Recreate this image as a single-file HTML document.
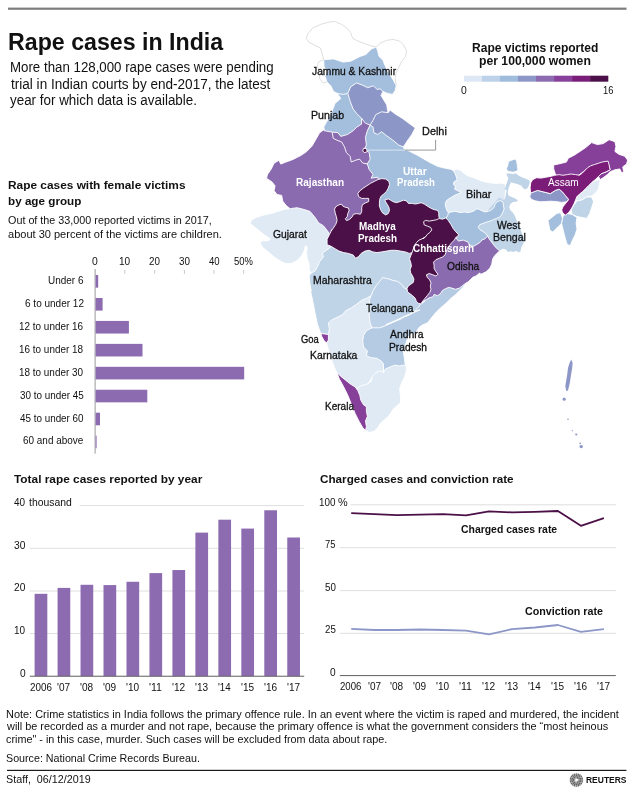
<!DOCTYPE html>
<html><head><meta charset="utf-8"><title>Rape cases in India</title>
<style>
html,body{margin:0;padding:0;background:#fff;}
#tx{position:absolute;left:0;top:0;width:633px;height:794px;will-change:transform;}
#p{position:relative;width:633px;height:794px;overflow:hidden;background:#fff;font-family:"Liberation Sans", sans-serif;color:#111;}
#p svg{position:absolute;left:0;top:0;}
.t{position:absolute;white-space:pre;line-height:1;transform-origin:0 0;display:block;}
</style></head><body>
<div id="p">
<svg width="633" height="794" viewBox="0 0 633 794">
<rect x="8" y="7.6" width="618.5" height="2.2" fill="#7d7d7d"/>
<rect x="463.90" y="75.7" width="18.2" height="6" fill="#dde8f4"/>
<rect x="481.93" y="75.7" width="18.2" height="6" fill="#bdd2e8"/>
<rect x="499.96" y="75.7" width="18.2" height="6" fill="#9fbcdc"/>
<rect x="517.99" y="75.7" width="18.2" height="6" fill="#8d97c7"/>
<rect x="536.02" y="75.7" width="18.2" height="6" fill="#8c6bb1"/>
<rect x="554.05" y="75.7" width="18.2" height="6" fill="#87409b"/>
<rect x="572.08" y="75.7" width="18.2" height="6" fill="#7a1d79"/>
<rect x="590.11" y="75.7" width="18.2" height="6" fill="#4b1048"/>
<g stroke="#fff" stroke-width="0.9" stroke-linejoin="round">
<polygon fill="#e0eaf5" points="290.2,208.5 283.6,209.5 277.9,211.4 272.2,213.3 264.6,214.8 257.1,217.1 251.4,219.9 250.4,223.7 255.2,227.5 259.9,231.3 264.6,235.1 270.3,238.9 268.4,240.8 262.7,240.8 259.9,242.7 262.7,247.4 268.4,252.1 274.1,256.9 279.8,260.7 285.5,263.5 291.2,263.5 296.9,260.7 301.6,255.9 304.5,250.2 305.4,245.5 307.3,247.4 306.4,253.1 307.3,258.8 309.2,264.5 309.2,270.1 311.1,273.0 319.6,275.8 331.0,256.9 338.6,237.9 334.8,222.7 319.6,211.4 304.5,203.8"/>
<polygon fill="#c0d4e8" points="311.1,273.0 314.9,271.1 317.7,266.4 319.6,261.6 323.4,256.9 322.5,253.1 326.3,250.2 329.1,248.3 334.8,243.6 360.0,243.6 399.0,241.4 417.9,245.2 417.9,286.9 398.6,307.9 375.8,319.3 347.4,338.2 328.4,342.0 320.9,333.5 319.0,328.8 317.1,323.1 315.2,313.6 313.3,304.1 311.4,294.6 309.5,285.2 307.6,275.7 311.1,291.0 309.8,283.4 309.2,275.8"/>
<polygon fill="#e0eaf5" points="320.9,333.5 328.4,334.5 329.4,328.8 328.4,323.1 331.3,320.2 337.0,317.4 342.7,314.5 345.5,310.8 351.2,307.9 356.9,304.1 361.6,300.3 366.4,298.4 371.1,295.6 379.6,298.4 379.6,326.9 387.2,349.6 389.1,370.5 381.5,376.2 376.8,376.2 372.0,378.1 369.2,381.8 366.4,385.6 362.6,388.5 356.9,391.3 351.2,391.3 345.5,383.7 337.0,373.3 334.1,366.7 331.3,359.1 328.4,349.6 326.5,343.0 323.7,340.1 321.8,336.4"/>
<polygon fill="#bdd2e8" points="371.1,295.6 373.0,290.9 375.8,286.1 379.6,281.4 382.5,277.6 387.2,278.5 392.9,280.4 397.6,281.4 401.4,284.2 404.3,288.0 407.1,289.0 413.7,289.0 421.3,298.4 425.1,307.9 420.0,319.3 402.4,326.9 379.6,332.6 372.0,327.8 370.1,323.1 369.2,315.5 370.1,307.9 369.2,300.3"/>
<polygon fill="#b5cbe4" points="372.0,327.8 379.6,327.8 385.3,325.9 391.0,323.1 396.7,320.2 402.4,317.4 408.1,315.5 413.7,311.7 420.0,309.8 385.7,324.8 391.4,322.9 396.1,321.0 400.9,319.1 404.6,316.3 410.3,314.4 414.1,311.5 417.9,307.7 420.8,303.9 422.7,303.0 427.4,298.2 436.9,292.6 450.1,285.0 463.4,279.3 466.3,281.2 463.4,286.9 459.6,290.7 455.8,294.5 451.1,298.2 446.4,303.0 440.7,307.7 435.0,313.4 431.2,318.2 427.4,322.9 422.7,324.8 418.9,327.6 416.0,332.4 409.1,335.7 407.2,339.5 405.3,345.2 403.4,350.9 404.4,358.4 405.3,365.1 406.3,370.8 399.6,373.6 390.1,373.6 383.5,372.7 383.5,364.1 381.6,361.3 376.9,358.4 370.2,357.5 366.4,355.6 367.4,350.9 363.6,347.1 362.7,341.4 363.5,335.4 366.4,330.7"/>
<polygon fill="#e0eaf5" points="360.8,385.9 367.4,384.0 371.2,381.2 372.1,376.4 375.9,372.7 380.7,370.8 383.5,372.7 385.4,368.9 390.1,367.0 394.9,365.1 399.6,366.0 403.4,365.1 406.3,366.0 406.3,370.8 404.4,377.4 401.5,383.1 399.6,388.8 400.6,396.4 400.6,403.0 396.8,405.8 393.0,409.6 389.2,415.3 385.4,419.1 380.7,422.9 377.8,427.6 374.0,431.4 369.3,432.4 365.5,430.5 357.9,421.0 354.1,405.8 354.1,390.7"/>
<polygon fill="#87409a" points="337.1,372.7 340.9,376.4 345.6,380.2 350.3,384.0 355.1,386.9 357.9,390.7 359.8,395.4 360.8,400.1 363.6,404.9 366.4,406.8 366.4,411.5 367.4,416.3 365.5,421.0 366.4,426.7 365.5,430.5 362.7,427.6 358.9,421.0 355.1,413.4 351.3,403.9 347.5,394.5 342.7,385.0 339.0,378.3"/>
<polygon fill="#87409a" points="320.9,333.5 328.4,334.5 328.4,340.1 326.5,343.0 323.7,340.1 321.8,336.4"/>
<polygon fill="#a4bfdd" points="323.7,59.7 333.6,58.9 343.1,62.1 350.7,61.2 360.1,56.4 365.8,54.5 371.5,48.9 376.3,47.0 377.6,50.8 379.1,56.4 382.9,60.2 384.8,65.0 388.6,72.6 393.3,80.1 396.2,85.8 395.2,90.6 392.4,94.4 387.6,93.4 382.9,91.5 380.0,93.4 373.4,93.4 365.8,93.4 356.4,91.5 352.6,99.1 343.1,99.1 337.4,93.4 333.6,91.5 330.8,85.8 327.0,82.0 325.1,76.4 327.0,70.7 324.1,66.9"/>
<polygon fill="#a4bfdd" points="347.8,93.4 343.1,94.4 337.4,93.4 340.8,98.5 335.1,103.3 332.2,110.9 327.5,120.3 323.7,127.0 324.6,130.8 328.4,135.5 347.4,139.3 364.5,127.9 364.5,116.5 356.9,107.1 353.1,93.8"/>
<polygon fill="#8d97c7" points="347.8,93.4 350.7,86.8 356.4,83.0 362.0,84.9 367.7,87.7 373.4,85.8 377.2,89.6 380.0,88.7 382.9,91.5 381.0,95.3 383.8,100.0 386.7,104.8 387.6,110.5 388.6,116.2 379.1,123.7 371.5,127.5 365.4,126.0 361.6,124.1 361.6,118.4 356.9,113.7 353.1,109.0 350.2,101.4 347.8,93.4"/>
<polygon fill="#8d97c7" points="370.1,125.1 373.0,120.3 375.8,114.6 381.5,111.8 388.2,112.7 390.0,109.9 394.8,113.7 402.4,118.4 410.0,124.1 415.3,127.9 411.8,134.5 407.1,141.2 403.3,146.9 394.8,148.8 383.4,143.1 375.8,139.3 370.1,133.6"/>
<polygon fill="#a4bfdd" points="370.1,125.1 373.0,127.0 373.9,132.7 377.7,134.5 381.5,131.7 386.3,135.5 392.9,140.2 398.6,145.0 403.3,146.9 403.8,148.4 409.5,151.3 417.1,155.1 423.7,158.9 430.3,162.7 437.9,166.4 445.5,168.3 451.2,169.3 454.0,171.2 460.7,176.9 462.6,195.8 455.0,209.1 449.3,222.4 437.9,222.4 419.0,211.0 400.0,209.1 398,224 376,224 373,188 362.6,169.6 360.7,150.7 362.6,137.4"/>
<polygon fill="#e0eaf5" points="453.4,170.2 456.6,169.0 460.4,170.2 464.2,173.4 468.0,175.9 472.4,177.2 476.8,179.1 481.9,181.0 486.9,182.2 492.0,183.1 497.0,183.5 500.8,183.1 505.0,184.1 505.9,187.9 504.6,200.6 505.9,215.7 475.6,218.2 450.3,218.2 448.4,212.6 447.1,210.7 445.9,207.5 445.2,203.7 446.5,200.6 449.0,198.7 452.2,196.8 455.3,194.9 459.1,193.6 461.0,192.3 458.5,191.1 454.7,189.2 455.3,186.7 453.4,184.1 454.1,181.6 457.2,180.3 456.6,177.8 455.3,174.0"/>
<polygon fill="#c0d4e8" stroke="none" points="506.5,173.5 509.7,173.5 512.9,174.1 516.0,173.5 518.5,175.4 521.7,177.3 524.9,178.5 528.0,179.8 529.9,181.1 529.3,184.2 528.0,187.4 526.1,189.3 523.6,188.7 521.1,185.5 517.9,184.2 515.4,183.6 512.9,183.0 511.0,182.3 509.7,184.9 508.4,188.7 507.8,192.4 508.4,195.6 511.6,196.9 515.4,198.4 517.9,200.4 516.8,201.4 513.0,202.0 510.4,203.9 509.2,207.1 510.4,210.2 513.0,212.7 514.9,215.9 516.1,219.1 517.4,222.2 519.3,225.4 520.6,229.2 521.8,233.0 523.7,236.8 524.3,240.6 523.1,244.3 521.2,247.5 520.6,251.3 518.7,252.6 516.1,250.7 513.6,251.9 511.1,251.3 507.9,251.9 506.0,249.4 502.9,248.8 499.7,250.7 495.3,253.2 485.2,243.1 475.1,227.9 489.0,209.0 499.1,197.6 504.1,200.1 505.4,197.0 506.0,193.8 506.7,190.0 504.6,189.3 505.9,185.5 507.2,181.7 508.4,177.9 506.8,175.4"/>
<polygon fill="#a4bfdd" points="508.4,161.5 511.6,160.2 514.8,159.0 516.7,160.9 517.3,165.3 517.9,169.7 516.0,171.6 512.9,172.2 509.7,171.6 507.2,171.0 506.5,168.4 507.8,165.3"/>
<polygon fill="#a4bfdd" points="445.9,218.2 447.7,215.7 448.4,212.6 451.5,211.9 454.7,211.3 457.9,211.9 461.0,212.6 464.2,211.9 468.0,212.6 471.1,211.9 474.3,210.7 476.8,208.8 479.3,209.4 481.9,210.7 485.0,211.9 488.2,211.3 491.4,210.0 493.9,207.5 495.1,204.3 497.0,201.8 500.2,200.6 502.7,201.8 502.9,202.6 503.5,205.8 504.1,209.0 502.9,212.1 501.6,214.6 499.7,217.2 496.5,218.4 493.4,219.7 490.2,221.0 486.4,222.2 482.6,223.5 479.5,224.8 478.2,227.3 480.1,229.8 483.3,231.7 485.8,233.6 487.7,236.1 487.7,243.1 477.6,248.1 464.9,248.1 456.1,243.1 446,240 438,228 438,222"/>
<polygon fill="#8b6bb0" points="420.9,303.9 423.4,301.4 426.5,299.5 429.7,297.6 432.9,296.9 434.1,294.4 437.3,295.7 440.4,293.8 442.3,290.6 445.5,288.7 448.7,287.4 451.8,288.1 455.6,289.3 459.4,288.1 462.6,285.6 465.1,283.7 468.2,281.8 470.8,279.2 472.7,277.3 475.8,276.1 480.0,272.9 480.5,274.5 486.2,271.7 490.0,267.9 491.8,264.1 492.1,262.0 492.7,258.9 494.6,255.7 497.2,253.2 499.7,250.7 497.8,249.4 495.3,246.9 492.7,243.7 490.9,241.2 489.0,238.7 487.7,236.1 485.2,238.7 482.0,239.9 480.1,242.4 477.0,244.3 473.8,246.2 470.0,245.6 467.9,242.0 463.2,240.1 458.4,241.1 455.6,237.3 445.2,234.5 433.8,255.3 426.2,276.2 425.3,285.6 419.0,298.2"/>
<polygon fill="#8b6bb0" points="361.6,118.4 365.4,123.2 370.1,125.1 367.3,130.8 365.4,137.4 366.4,145.0 364.5,148.8 369.2,152.6 370.1,159.2 367.3,163.9 362.6,165.8 356.9,165.8 349.3,163.9 343.6,152.6 337.9,145.0 330.3,139.3 332.2,132.1 337.9,132.7 340.8,136.4 347.4,134.5 353.1,130.8 356.9,127.0 361.6,124.1"/>
<polygon fill="#8b6bb0" points="324.6,130.8 332.2,132.1 333.2,138.3 337.0,140.2 341.7,142.1 344.5,146.9 346.4,152.6 350.2,156.4 351.2,162.0 355.9,160.1 359.7,159.2 362.6,163.0 367.3,163.9 369.2,169.6 373.0,174.4 371.1,178.2 377.7,177.2 381.5,188.6 375.8,211.3 346.2,236.2 334.8,243.7 329.1,233.3 327.2,230.5 323.4,225.7 318.7,222.9 314.9,217.2 310.1,211.5 304.5,209.6 296.9,207.7 290.2,208.7 286.4,205.8 282.7,201.1 281.7,195.4 277.0,194.5 274.1,190.7 275.1,185.9 272.2,182.1 266.5,178.3 267.5,174.5 271.3,168.9 274.1,163.2 278.9,160.3 280.8,164.1 285.5,162.2 293.1,159.4 300.7,155.6 306.4,151.8 312.0,146.1 315.8,139.5 319.6,132.8 323.4,130.0"/>
<polygon fill="#4b1048" points="331.4,230.7 333.3,228.1 335.8,224.3 337.1,220.6 336.4,216.8 335.2,213.0 334.5,209.2 335.8,206.7 339.0,204.8 341.5,204.1 342.7,206.0 345.3,207.3 348.4,207.9 349.1,210.4 347.8,213.6 347.2,216.8 345.3,218.7 346.5,220.6 349.7,219.3 352.2,216.8 353.5,214.2 356.7,213.6 360.4,214.2 361.7,211.7 361.7,207.9 362.3,204.8 365.5,202.9 368.7,201.6 368.7,198.4 365.5,198.4 361.7,198.4 358.5,196.5 357.9,193.4 359.8,190.9 363.0,188.3 366.8,185.8 370.6,183.3 374.3,181.4 378.1,179.5 381.9,178.6 385.7,179.1 388.9,181.4 389.5,184.5 388.2,188.3 386.4,191.5 383.8,194.0 381.3,195.9 380.0,198.4 379.4,202.2 379.4,206.0 380.7,209.8 382.6,213.0 385.7,214.9 388.2,213.6 389.5,210.4 388.9,207.3 387.0,204.1 385.1,201.0 385.1,199.6 388.8,199.0 392.6,201.5 396.4,202.7 400.2,201.5 403.4,200.2 406.5,200.9 408.4,203.4 412.2,203.4 415.4,204.0 418.5,203.4 421.1,202.7 424.2,204.0 428.0,206.5 431.2,208.4 434.3,209.7 437.5,210.3 438.8,212.9 438.8,216.0 439.4,218.5 445.7,221.7 450.8,233.1 438.1,250.8 417.9,260.0 412.4,252.6 409.3,253.4 405.3,251.9 400.6,251.1 395.8,250.3 391.1,250.3 386.4,251.1 381.6,251.9 376.9,252.6 372.9,251.9 369.0,250.3 365.0,251.1 361.1,253.4 358.7,256.6 355.5,258.2 353.2,255.0 348.4,253.4 343.7,252.6 339.0,251.1 335.0,248.7 331.1,246.3 327.1,244.7 327.1,239.2 329.5,234.5 331.8,229.7"/>
<polygon fill="#4b1048" points="439.4,218.5 442.6,219.2 445.7,217.9 448.2,220.4 450.8,224.2 453.3,228.7 455.8,231.8 458.4,234.3 457.7,236.9 456.2,236.9 454.3,240.1 451.8,242.6 449.3,245.7 447.4,248.9 446.1,252.1 444.9,255.2 442.3,257.1 439.2,258.4 436.0,259.6 433.5,262.2 434.1,265.3 434.1,268.5 436.0,271.7 437.9,274.2 436.0,276.1 432.9,274.8 429.1,273.5 426.5,274.8 427.2,277.3 429.7,279.9 431.0,283.0 430.3,286.2 431.0,289.3 429.7,292.5 427.2,295.7 424.6,298.8 422.1,302.0 420.9,303.9 418.3,303.2 416.4,301.4 415.2,298.2 412.6,295.7 410.1,293.8 407.6,291.9 407.0,288.7 408.2,286.2 410.7,284.3 413.3,282.4 413.9,279.2 412.6,276.1 410.7,272.9 410.1,269.8 411.4,266.0 410.7,262.2 409.5,259.0 410.7,255.9 412.0,252.7 413.3,248.9 414.5,245.7 416.4,242.6 419.0,240.1 422.1,238.8 425.3,236.9 423.0,238.8 425.5,236.9 427.4,234.3 429.9,232.4 431.8,229.9 430.6,227.4 427.4,226.1 424.2,224.9 423.6,221.7 425.5,220.4 429.3,221.1 433.1,220.4 436.2,219.8"/>
<polygon fill="#4b1048" points="363.3,148.6 366.5,148.4 367.2,151.8 364.2,152.6 362.8,151"/>
<polygon fill="#8d97c7" points="530.7,193.0 537.6,190.4 545.2,192.3 550.3,193.6 555.3,190.4 559.1,189.2 562.3,191.7 565.4,195.5 568.6,199.3 566.7,201.8 561.7,202.4 556.0,201.6 550.3,201.2 545.2,201.6 540.2,201.8 535.1,200.8 531.3,199.3 529.8,196.8"/>
<polygon fill="#e0eaf5" points="595.5,180.5 600.4,179.6 599.4,184.4 598.4,189.3 595.5,193.2 591.6,196.1 586.8,197.0 581.9,200.0 577.0,200.9 574.1,200.0 579.0,195.1 582.9,191.2 586.8,187.3 590.6,183.4"/>
<polygon fill="#c0d4e8" points="577.0,200.9 581.9,200.0 586.8,197.0 591.6,197.0 593.6,201.9 591.6,207.7 589.7,213.6 586.8,218.4 581.9,217.4 577.0,216.5 572.2,214.5 571.2,209.7 574.1,204.8"/>
<polygon fill="#a4bfdd" points="563.4,215.5 567.3,213.6 572.2,214.5 577.0,217.4 576.1,223.3 577.0,229.1 575.1,234.9 572.2,240.8 570.2,245.6 567.3,244.7 565.4,238.8 563.4,231.0 561.5,223.3 562.5,218.4"/>
<polygon fill="#a4bfdd" points="547.9,220.4 551.8,217.4 556.6,213.6 560.5,212.6 562.5,218.4 561.5,223.3 558.6,226.2 555.7,229.1 552.8,232.0 549.8,230.1 548.9,225.2"/>
<polygon fill="#87409a" points="553.7,165.0 558.6,164.0 566.4,162.1 568.3,158.2 574.1,155.3 580.0,151.4 585.8,147.5 591.6,142.6 597.4,144.6 603.3,143.6 609.1,139.7 614.9,141.7 615.9,146.5 614.9,151.4 618.8,154.3 624.7,156.2 627.6,160.1 626.6,164.0 622.7,166.9 623.7,171.8 621.7,172.8 619.8,168.9 614.9,169.8 610.1,171.8 607.2,174.7 603.3,177.6 600.4,179.6 598.4,176.6 601.3,173.7 606.2,171.8 610.1,169.8 609.1,166.0 607.2,163.4 603.3,164.0 597.4,166.0 591.6,167.9 585.8,169.8 581.9,172.8 578.0,175.7 572.2,176.6 566.4,177.6 560.5,176.6 555.7,175.1 553.7,168.9"/>
<polygon fill="#7a1c78" points="530.1,187.9 530.7,182.9 532.6,179.7 536.4,177.8 541.4,178.1 545.9,177.2 550.3,176.5 554.7,175.3 559.1,174.6 562.9,175.3 567.3,174.6 571.1,174.0 575.6,174.6 579.3,175.3 581.9,173.4 584.4,170.9 587.6,167.7 590.7,165.8 594.5,164.5 598.3,163.3 602.1,162.0 608.1,161.1 609.1,165 610.1,169.8 606.2,171.8 601.3,173.7 598.4,176.6 595.1,179.7 592.0,182.2 588.8,185.4 585.7,188.5 582.5,191.7 579.3,194.2 576.8,196.8 575.6,199.9 574.3,203.1 572.4,206.9 570.5,210.0 568.6,212.6 565.4,215.1 562.9,213.2 561.7,210.0 562.9,206.9 565.4,203.7 568.0,200.6 568.6,199.3 565.4,195.5 562.3,191.7 559.1,189.2 555.3,190.4 550.3,193.6 545.2,192.3 537.6,190.4 530.7,193.0"/>
<polygon fill="#8d97c7" stroke="none" points="571.3,359.5 572.6,363 572.2,368 571,375 570,382 568,390.5 566.2,391 565.3,386 566.3,380 567.3,374 568,368 569.5,363"/>
</g>
<g fill="none" stroke="#d6d6d6" stroke-width="0.8" stroke-linejoin="round">
<polyline points="323.7,59.7 322.2,53.6 320.3,47.9 314.6,45.1 309.0,42.2 306.1,38.4 308.0,33.7 312.7,28.0 321.3,24.2 327.9,22.3 334.5,21.4 341.2,24.2 346.9,28.0 350.7,32.7 352.6,38.4 356.4,40.3 361.1,42.2 365.8,44.1 371.5,46.0 376.3,47.0"/>
<polyline points="376.3,47.0 380.0,43.2 386.7,40.3 393.3,39.4 400.0,41.3 403.7,45.1 406.6,50.8 405.6,56.4 401.8,61.2 399.0,66.9 396.2,72.6 395.2,78.2 396.2,85.8"/>
<polyline points="323.7,59.7 318.4,62.1 317.5,66.9 320.3,72.6 319.4,78.2 323.2,83.0 327.0,82.0"/>
</g>
<circle cx="564.2" cy="399.2" r="1.6" fill="#8d97c7"/>
<circle cx="568" cy="419.2" r="0.8" fill="#8d97c7"/>
<circle cx="572.3" cy="430.7" r="0.6" fill="#8d97c7"/>
<circle cx="576.3" cy="434.5" r="1.1" fill="#8d97c7"/>
<circle cx="581.2" cy="446.6" r="1.7" fill="#8d97c7"/>
<circle cx="580.2" cy="443.4" r="0.8" fill="#8d97c7"/>
<polyline points="367.5,150.1 405.5,150.1" fill="none" stroke="#dfe9f3" stroke-width="0.9"/>
<polyline points="405.5,150.1 435.6,150.1 435.6,139.8" fill="none" stroke="#8c8c8c" stroke-width="0.9"/>
<rect x="94.6" y="269" width="1" height="184.6" fill="#9a9a9a"/>
<rect x="124.3" y="270" width="1" height="3.8" fill="#c8c8c8"/>
<rect x="154.2" y="270" width="1" height="3.8" fill="#c8c8c8"/>
<rect x="183.9" y="270" width="1" height="3.8" fill="#c8c8c8"/>
<rect x="213.5" y="270" width="1" height="3.8" fill="#c8c8c8"/>
<rect x="243.2" y="270" width="1" height="3.8" fill="#c8c8c8"/>
<rect x="95.6" y="275.05" width="2.60" height="12.6" fill="#8c6bb1"/>
<rect x="95.6" y="297.99" width="7.00" height="12.6" fill="#8c6bb1"/>
<rect x="95.6" y="320.93" width="33.30" height="12.6" fill="#8c6bb1"/>
<rect x="95.6" y="343.87" width="46.90" height="12.6" fill="#8c6bb1"/>
<rect x="95.6" y="366.81" width="148.60" height="12.6" fill="#8c6bb1"/>
<rect x="95.6" y="389.75" width="51.70" height="12.6" fill="#8c6bb1"/>
<rect x="95.6" y="412.69" width="4.40" height="12.6" fill="#8c6bb1"/>
<rect x="95.6" y="435.63" width="1.00" height="12.6" fill="#8c6bb1"/>
<rect x="79.6" y="505.1" width="224.6" height="1" fill="#dfdfdf"/>
<rect x="29.8" y="547.8" width="274.4" height="1" fill="#dfdfdf"/>
<rect x="29.8" y="590.5" width="274.4" height="1" fill="#dfdfdf"/>
<rect x="29.8" y="633.0" width="274.4" height="1" fill="#dfdfdf"/>
<rect x="34.60" y="593.82" width="12.7" height="82.48" fill="#8c6bb1"/>
<rect x="57.57" y="587.90" width="12.7" height="88.40" fill="#8c6bb1"/>
<rect x="80.54" y="584.79" width="12.7" height="91.51" fill="#8c6bb1"/>
<rect x="103.51" y="585.08" width="12.7" height="91.22" fill="#8c6bb1"/>
<rect x="126.48" y="581.78" width="12.7" height="94.52" fill="#8c6bb1"/>
<rect x="149.45" y="573.11" width="12.7" height="103.19" fill="#8c6bb1"/>
<rect x="172.42" y="570.05" width="12.7" height="106.25" fill="#8c6bb1"/>
<rect x="195.39" y="532.61" width="12.7" height="143.69" fill="#8c6bb1"/>
<rect x="218.36" y="519.70" width="12.7" height="156.60" fill="#8c6bb1"/>
<rect x="241.33" y="528.58" width="12.7" height="147.72" fill="#8c6bb1"/>
<rect x="264.30" y="510.27" width="12.7" height="166.03" fill="#8c6bb1"/>
<rect x="287.27" y="537.50" width="12.7" height="138.80" fill="#8c6bb1"/>
<rect x="29.8" y="675.7" width="274.4" height="1.1" fill="#6e6e6e"/>
<rect x="350.4" y="504.3" width="265.4" height="1" fill="#dfdfdf"/>
<rect x="339.8" y="547.2" width="275.99999999999994" height="1" fill="#dfdfdf"/>
<rect x="339.8" y="590.1" width="275.99999999999994" height="1" fill="#dfdfdf"/>
<rect x="339.8" y="632.8" width="275.99999999999994" height="1" fill="#dfdfdf"/>
<rect x="339.8" y="675.0" width="276" height="1.1" fill="#6e6e6e"/>
<polyline fill="none" stroke="#4b1048" stroke-width="1.8" stroke-linejoin="round" points="351.2,513.1 374.2,514.1 397.1,515.1 420.1,514.6 443.1,514.1 466.0,515.4 489.0,511.3 512.0,512.4 535.0,511.9 557.9,511.0 580.9,525.8 603.9,518.1"/>
<polyline fill="none" stroke="#8d97c7" stroke-width="1.8" stroke-linejoin="round" points="351.2,628.8 374.2,630.0 397.1,630.0 420.1,629.5 443.1,630.0 466.0,630.6 489.0,634.3 512.0,629.1 535.0,627.5 557.9,625.0 580.9,631.8 603.9,629.1"/>
<rect x="7" y="769.8" width="619.4" height="1.2" fill="#1a1a1a"/>
<g fill="#666"><circle cx="582.40" cy="780.00" r="0.85"/><circle cx="582.11" cy="781.85" r="0.85"/><circle cx="581.25" cy="783.53" r="0.85"/><circle cx="579.93" cy="784.85" r="0.85"/><circle cx="578.25" cy="785.71" r="0.85"/><circle cx="576.40" cy="786.00" r="0.85"/><circle cx="574.55" cy="785.71" r="0.85"/><circle cx="572.87" cy="784.85" r="0.85"/><circle cx="571.55" cy="783.53" r="0.85"/><circle cx="570.69" cy="781.85" r="0.85"/><circle cx="570.40" cy="780.00" r="0.85"/><circle cx="570.69" cy="778.15" r="0.85"/><circle cx="571.55" cy="776.47" r="0.85"/><circle cx="572.87" cy="775.15" r="0.85"/><circle cx="574.55" cy="774.29" r="0.85"/><circle cx="576.40" cy="774.00" r="0.85"/><circle cx="578.25" cy="774.29" r="0.85"/><circle cx="579.93" cy="775.15" r="0.85"/><circle cx="581.25" cy="776.47" r="0.85"/><circle cx="582.11" cy="778.15" r="0.85"/><circle cx="580.90" cy="780.00" r="0.9"/><circle cx="580.56" cy="781.72" r="0.9"/><circle cx="579.58" cy="783.18" r="0.9"/><circle cx="578.12" cy="784.16" r="0.9"/><circle cx="576.40" cy="784.50" r="0.9"/><circle cx="574.68" cy="784.16" r="0.9"/><circle cx="573.22" cy="783.18" r="0.9"/><circle cx="572.24" cy="781.72" r="0.9"/><circle cx="571.90" cy="780.00" r="0.9"/><circle cx="572.24" cy="778.28" r="0.9"/><circle cx="573.22" cy="776.82" r="0.9"/><circle cx="574.68" cy="775.84" r="0.9"/><circle cx="576.40" cy="775.50" r="0.9"/><circle cx="578.12" cy="775.84" r="0.9"/><circle cx="579.58" cy="776.82" r="0.9"/><circle cx="580.56" cy="778.28" r="0.9"/><circle cx="579.50" cy="780.00" r="0.85"/><circle cx="579.01" cy="781.68" r="0.85"/><circle cx="577.69" cy="782.82" r="0.85"/><circle cx="575.96" cy="783.07" r="0.85"/><circle cx="574.37" cy="782.34" r="0.85"/><circle cx="573.43" cy="780.87" r="0.85"/><circle cx="573.43" cy="779.13" r="0.85"/><circle cx="574.37" cy="777.66" r="0.85"/><circle cx="575.96" cy="776.93" r="0.85"/><circle cx="577.69" cy="777.18" r="0.85"/><circle cx="579.01" cy="778.32" r="0.85"/><circle cx="578.30" cy="780.00" r="0.6"/><circle cx="577.58" cy="781.49" r="0.6"/><circle cx="575.98" cy="781.85" r="0.6"/><circle cx="574.69" cy="780.82" r="0.6"/><circle cx="574.69" cy="779.18" r="0.6"/><circle cx="575.98" cy="778.15" r="0.6"/><circle cx="577.58" cy="778.51" r="0.6"/></g>
</svg>
<div id="tx">
<span class="t" style="left:8.01px;top:31.25px;font-size:23.3px;transform:scaleX(0.9951);font-weight:bold;">Rape cases in India</span>
<span class="t" style="left:10.23px;top:61.25px;font-size:13.8px;transform:scaleX(0.9627);">More than 128,000 rape cases were pending</span>
<span class="t" style="left:10.52px;top:78.25px;font-size:13.8px;transform:scaleX(0.9828);">trial in Indian courts by end-2017, the latest</span>
<span class="t" style="left:10.20px;top:94.25px;font-size:13.8px;transform:scaleX(0.9712);">year for which data is available.</span>
<span class="t" style="left:8.13px;top:180.25px;font-size:11.8px;transform:scaleX(1.0062);font-weight:bold;">Rape cases with female victims</span>
<span class="t" style="left:8.14px;top:196.25px;font-size:11.8px;transform:scaleX(0.9902);font-weight:bold;">by age group</span>
<span class="t" style="left:8.13px;top:215.25px;font-size:11.0px;transform:scaleX(0.9803);">Out of the 33,000 reported victims in 2017,</span>
<span class="t" style="left:8.13px;top:229.25px;font-size:11.0px;transform:scaleX(1.0023);">about 30 percent of the victims are children.</span>
<span class="t" style="left:92.24px;top:257.25px;font-size:10.2px;transform:scaleX(1.0175);">0</span>
<span class="t" style="left:118.87px;top:257.25px;font-size:10.2px;transform:scaleX(0.9890);">10</span>
<span class="t" style="left:149.04px;top:257.25px;font-size:10.2px;transform:scaleX(0.9648);">20</span>
<span class="t" style="left:178.69px;top:257.25px;font-size:10.2px;transform:scaleX(0.9698);">30</span>
<span class="t" style="left:208.60px;top:257.25px;font-size:10.2px;transform:scaleX(0.9417);">40</span>
<span class="t" style="left:234.31px;top:257.25px;font-size:10.2px;transform:scaleX(0.9287);">50%</span>
<span class="t" style="left:48.17px;top:275.25px;font-size:10.6px;transform:scaleX(0.9402);">Under 6</span>
<span class="t" style="left:24.93px;top:298.25px;font-size:10.6px;transform:scaleX(0.9446);">6 to under 12</span>
<span class="t" style="left:19.32px;top:321.25px;font-size:10.6px;transform:scaleX(0.9379);">12 to under 16</span>
<span class="t" style="left:19.32px;top:344.25px;font-size:10.6px;transform:scaleX(0.9379);">16 to under 18</span>
<span class="t" style="left:19.32px;top:367.25px;font-size:10.6px;transform:scaleX(0.9375);">18 to under 30</span>
<span class="t" style="left:19.51px;top:390.25px;font-size:10.6px;transform:scaleX(0.9347);">30 to under 45</span>
<span class="t" style="left:19.80px;top:413.25px;font-size:10.6px;transform:scaleX(0.9305);">45 to under 60</span>
<span class="t" style="left:23.44px;top:435.25px;font-size:10.6px;transform:scaleX(0.9384);">60 and above</span>
<span class="t" style="left:471.73px;top:42.25px;font-size:12.0px;transform:scaleX(1.0024);font-weight:bold;">Rape victims reported</span>
<span class="t" style="left:479.00px;top:55.25px;font-size:12.0px;transform:scaleX(1.0161);font-weight:bold;">per 100,000 women</span>
<span class="t" style="left:461.09px;top:86.25px;font-size:10.2px;transform:scaleX(1.0175);">0</span>
<span class="t" style="left:603.03px;top:86.25px;font-size:10.2px;transform:scaleX(0.9218);">16</span>
<span class="t" style="left:311.63px;top:66.25px;font-size:10.6px;transform:scaleX(0.9715);-webkit-text-stroke:0.3px;">Jammu &amp; Kashmir</span>
<span class="t" style="left:311.47px;top:110.25px;font-size:10.6px;transform:scaleX(1.0020);-webkit-text-stroke:0.3px;">Punjab</span>
<span class="t" style="left:422.45px;top:126.25px;font-size:10.6px;transform:scaleX(1.0294);-webkit-text-stroke:0.3px;">Delhi</span>
<span class="t" style="left:296.23px;top:177.25px;font-size:10.8px;transform:scaleX(0.9321);font-weight:bold;color:#fff;">Rajasthan</span>
<span class="t" style="left:403.48px;top:166.25px;font-size:10.8px;transform:scaleX(0.9420);font-weight:bold;color:#fff;">Uttar</span>
<span class="t" style="left:396.66px;top:177.25px;font-size:10.8px;transform:scaleX(0.8908);font-weight:bold;color:#fff;">Pradesh</span>
<span class="t" style="left:466.35px;top:189.25px;font-size:10.6px;transform:scaleX(1.0232);-webkit-text-stroke:0.3px;">Bihar</span>
<span class="t" style="left:547.59px;top:177.25px;font-size:10.6px;transform:scaleX(0.9489);color:#fff;">Assam</span>
<span class="t" style="left:273.12px;top:229.25px;font-size:10.6px;transform:scaleX(0.9729);-webkit-text-stroke:0.3px;">Gujarat</span>
<span class="t" style="left:358.84px;top:221.25px;font-size:10.8px;transform:scaleX(0.9175);font-weight:bold;color:#fff;">Madhya</span>
<span class="t" style="left:357.74px;top:233.25px;font-size:10.8px;transform:scaleX(0.9149);font-weight:bold;color:#fff;">Pradesh</span>
<span class="t" style="left:497.18px;top:220.25px;font-size:10.6px;transform:scaleX(0.9765);-webkit-text-stroke:0.3px;">West</span>
<span class="t" style="left:492.57px;top:232.25px;font-size:10.6px;transform:scaleX(0.9989);-webkit-text-stroke:0.3px;">Bengal</span>
<span class="t" style="left:412.54px;top:243.25px;font-size:10.8px;transform:scaleX(0.9171);font-weight:bold;color:#fff;">Chhattisgarh</span>
<span class="t" style="left:447.24px;top:261.25px;font-size:10.6px;transform:scaleX(0.9603);-webkit-text-stroke:0.3px;">Odisha</span>
<span class="t" style="left:313.48px;top:275.25px;font-size:10.6px;transform:scaleX(0.9882);-webkit-text-stroke:0.3px;">Maharashtra</span>
<span class="t" style="left:365.75px;top:303.25px;font-size:10.6px;transform:scaleX(0.9732);-webkit-text-stroke:0.3px;">Telangana</span>
<span class="t" style="left:389.68px;top:329.25px;font-size:10.6px;transform:scaleX(0.9810);-webkit-text-stroke:0.3px;">Andhra</span>
<span class="t" style="left:388.70px;top:342.25px;font-size:10.6px;transform:scaleX(0.9644);-webkit-text-stroke:0.3px;">Pradesh</span>
<span class="t" style="left:301.37px;top:334.25px;font-size:10.6px;transform:scaleX(0.8890);-webkit-text-stroke:0.3px;">Goa</span>
<span class="t" style="left:309.79px;top:350.25px;font-size:10.6px;transform:scaleX(0.9813);-webkit-text-stroke:0.3px;">Karnataka</span>
<span class="t" style="left:325.12px;top:401.25px;font-size:10.6px;transform:scaleX(0.9474);-webkit-text-stroke:0.3px;">Kerala</span>
<span class="t" style="left:13.78px;top:474.25px;font-size:11.8px;transform:scaleX(1.0051);font-weight:bold;">Total rape cases reported by year</span>
<span class="t" style="left:14.09px;top:498.25px;font-size:10.2px;transform:scaleX(0.9786);">40</span>
<span class="t" style="left:28.82px;top:498.25px;font-size:10.2px;transform:scaleX(1.0203);">thousand</span>
<span class="t" style="left:13.76px;top:541.25px;font-size:10.2px;transform:scaleX(1.0078);">30</span>
<span class="t" style="left:13.82px;top:583.25px;font-size:10.2px;transform:scaleX(1.0026);">20</span>
<span class="t" style="left:14.08px;top:626.25px;font-size:10.2px;transform:scaleX(0.9793);">10</span>
<span class="t" style="left:19.70px;top:669.25px;font-size:10.2px;transform:scaleX(0.9967);">0</span>
<span class="t" style="left:29.74px;top:683.25px;font-size:10.2px;transform:scaleX(0.9670);">2006</span>
<span class="t" style="left:57.31px;top:683.25px;font-size:10.2px;transform:scaleX(0.9846);">&#x27;07</span>
<span class="t" style="left:80.27px;top:683.25px;font-size:10.2px;transform:scaleX(0.9875);">&#x27;08</span>
<span class="t" style="left:103.24px;top:683.25px;font-size:10.2px;transform:scaleX(0.9855);">&#x27;09</span>
<span class="t" style="left:126.21px;top:683.25px;font-size:10.2px;transform:scaleX(0.9865);">&#x27;10</span>
<span class="t" style="left:149.15px;top:683.25px;font-size:10.2px;transform:scaleX(1.0350);">&#x27;11</span>
<span class="t" style="left:172.15px;top:683.25px;font-size:10.2px;transform:scaleX(0.9949);">&#x27;12</span>
<span class="t" style="left:195.12px;top:683.25px;font-size:10.2px;transform:scaleX(0.9875);">&#x27;13</span>
<span class="t" style="left:218.12px;top:683.25px;font-size:10.2px;transform:scaleX(0.9513);">&#x27;14</span>
<span class="t" style="left:241.06px;top:683.25px;font-size:10.2px;transform:scaleX(0.9875);">&#x27;15</span>
<span class="t" style="left:264.03px;top:683.25px;font-size:10.2px;transform:scaleX(0.9875);">&#x27;16</span>
<span class="t" style="left:287.01px;top:683.25px;font-size:10.2px;transform:scaleX(0.9846);">&#x27;17</span>
<span class="t" style="left:319.68px;top:474.25px;font-size:11.8px;transform:scaleX(0.9909);font-weight:bold;">Charged cases and conviction rate</span>
<span class="t" style="left:319.29px;top:498.25px;font-size:10.2px;transform:scaleX(0.9695);">100</span>
<span class="t" style="left:338.05px;top:498.25px;font-size:10.2px;transform:scaleX(1.0666);">%</span>
<span class="t" style="left:325.10px;top:540.25px;font-size:10.2px;transform:scaleX(0.9151);">75</span>
<span class="t" style="left:324.59px;top:583.25px;font-size:10.2px;transform:scaleX(0.9610);">50</span>
<span class="t" style="left:324.65px;top:625.25px;font-size:10.2px;transform:scaleX(0.9553);">25</span>
<span class="t" style="left:329.90px;top:668.25px;font-size:10.2px;transform:scaleX(0.9967);">0</span>
<span class="t" style="left:340.26px;top:682.25px;font-size:10.2px;transform:scaleX(0.9439);">2006</span>
<span class="t" style="left:367.51px;top:682.25px;font-size:10.2px;transform:scaleX(0.9846);">&#x27;07</span>
<span class="t" style="left:390.47px;top:682.25px;font-size:10.2px;transform:scaleX(0.9875);">&#x27;08</span>
<span class="t" style="left:413.44px;top:682.25px;font-size:10.2px;transform:scaleX(0.9855);">&#x27;09</span>
<span class="t" style="left:436.41px;top:682.25px;font-size:10.2px;transform:scaleX(0.9865);">&#x27;10</span>
<span class="t" style="left:459.35px;top:682.25px;font-size:10.2px;transform:scaleX(1.0350);">&#x27;11</span>
<span class="t" style="left:482.35px;top:682.25px;font-size:10.2px;transform:scaleX(0.9949);">&#x27;12</span>
<span class="t" style="left:505.32px;top:682.25px;font-size:10.2px;transform:scaleX(0.9875);">&#x27;13</span>
<span class="t" style="left:528.32px;top:682.25px;font-size:10.2px;transform:scaleX(0.9513);">&#x27;14</span>
<span class="t" style="left:551.26px;top:682.25px;font-size:10.2px;transform:scaleX(0.9875);">&#x27;15</span>
<span class="t" style="left:574.23px;top:682.25px;font-size:10.2px;transform:scaleX(0.9875);">&#x27;16</span>
<span class="t" style="left:597.21px;top:682.25px;font-size:10.2px;transform:scaleX(0.9846);">&#x27;17</span>
<span class="t" style="left:460.92px;top:523.25px;font-size:11.6px;transform:scaleX(0.8990);font-weight:bold;">Charged cases rate</span>
<span class="t" style="left:525.11px;top:605.25px;font-size:11.6px;transform:scaleX(0.9244);font-weight:bold;">Conviction rate</span>
<span class="t" style="left:6.45px;top:710.25px;font-size:10.4px;transform:scaleX(1.0520);">Note: Crime statistics in India follows the primary offence rule. In an event where the victim is raped and murdered, the incident</span>
<span class="t" style="left:6.65px;top:722.25px;font-size:10.4px;transform:scaleX(1.0507);">will be recorded as a murder and not rape, because the primary offence is what the government considers the “most heinous</span>
<span class="t" style="left:6.44px;top:735.25px;font-size:10.4px;transform:scaleX(1.0407);">crime&quot; - in this case, murder. Such cases will be excluded from data about rape.</span>
<span class="t" style="left:6.06px;top:754.25px;font-size:10.4px;transform:scaleX(1.0301);">Source: National Crime Records Bureau.</span>
<span class="t" style="left:6.06px;top:775.25px;font-size:10.4px;transform:scaleX(1.0343);">Staff,  06/12/2019</span>
<span class="t" style="left:586.12px;top:776.25px;font-size:9.2px;transform:scaleX(0.9230);font-weight:bold;">REUTERS</span>
</div>
</div>
</body></html>
